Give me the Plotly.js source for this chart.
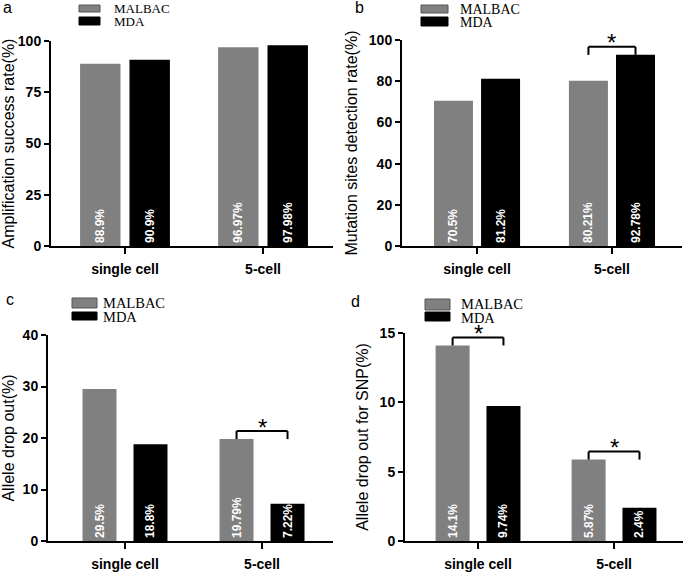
<!DOCTYPE html>
<html><head><meta charset="utf-8">
<script src="https://cdn.plot.ly/plotly-3.0.1.min.js"></script>
<style>html,body{margin:0;padding:0;background:#fff}#chart{width:685px;height:577px}</style>
</head><body><div id="chart"></div>
<script>
// ---------- data ----------
const categories = ['single cell', '5-cell'];
const seriesNames = ['MALBAC', 'MDA'];
const panelLetters = ['a', 'b', 'c', 'd'];
const yTitles = ['Amplification success rate(%)', 'Mutation sites detection rate(%)', 'Allele drop out(%)', 'Allele drop out for SNP(%)'];
const yMax = [100, 100, 40, 15];
const yStep = [25, 20, 10, 5];
const malbacA = [88.9, 96.97];
const mdaA = [90.9, 97.98];
const malbacB = [70.5, 80.21];
const mdaB = [81.2, 92.78];
const malbacC = [29.5, 19.79];
const mdaC = [18.8, 7.22];
const malbacD = [14.1, 5.87];
const mdaD = [9.74, 2.4];
const sigA = [];
const sigB = [1];
const sigC = [1];
const sigD = [0, 1];

// ---------- layout geometry (pixels in a 685x577 page) ----------
const W = 685, H = 577;
const px2x = p => p / W;
const px2y = p => 1 - p / H;
const seriesColors = ['#808080', '#000000'];
const panels = [
  {mal: malbacA, mda: mdaA, sig: sigA, plot: [51, 333, 41, 246], xr: [-0.536, 1.507], bw: 0.293, bg: 0.065, standoff: 4,
   letter: [8, 7], leg: {bx: [79, 100], rows: [[5, 12], [17, 25]], tx: 113, ty: [8.5, 21.5], fs: 13}},
  {mal: malbacB, mda: mdaB, sig: sigB, plot: [402, 682, 40, 246], xr: [-0.556, 1.519], bw: 0.289, bg: 0.06, standoff: 7,
   letter: [359, 8], leg: {bx: [421, 448], rows: [[5, 13], [17, 26]], tx: 459, ty: [9.5, 22], fs: 14}},
  {mal: malbacC, mda: mdaC, sig: sigC, plot: [48, 333, 335, 541], xr: [-0.562, 1.518], bw: 0.248, bg: 0.124, standoff: 7,
   letter: [10, 299], leg: {bx: [72, 97], rows: [[298, 308], [312, 320]], tx: 102, ty: [303, 317], fs: 14.5}},
  {mal: malbacD, mda: mdaD, sig: sigD, plot: [405, 683, 333, 541], xr: [-0.537, 1.507], bw: 0.25, bg: 0.124, standoff: 7,
   letter: [355, 301], leg: {bx: [425, 450], rows: [[299, 310], [312, 321]], tx: 460, ty: [304, 317.5], fs: 14.5}}
];

const FONT = 'Arial, "Liberation Sans", sans-serif';
const SERIF = '"Times New Roman", "Liberation Serif", serif';
const data = [];
const shapes = [];
const annotations = [];
const layout = {
  width: W, height: H, margin: {l: 0, r: 0, t: 0, b: 0},
  paper_bgcolor: '#fff', plot_bgcolor: '#fff',
  showlegend: false, hovermode: false,
  font: {family: FONT, color: '#000'},
  shapes: shapes, annotations: annotations
};

panels.forEach((p, i) => {
  const n = i === 0 ? '' : String(i + 1);
  const xa = 'x' + n, ya = 'y' + n;
  const [x0, x1, yTop, yBot] = p.plot;
  const plotH = yBot - yTop;
  [p.mal, p.mda].forEach((vals, s) => {
    data.push({
      type: 'bar', name: seriesNames[s], x: categories, y: vals,
      xaxis: xa, yaxis: ya,
      width: p.bw,
      offset: s === 0 ? -(p.bw + p.bg / 2) : p.bg / 2,
      marker: {color: seriesColors[s], line: {width: 0}},
      text: vals.map(v => v + '%'),
      textposition: 'inside', insidetextanchor: 'start', textangle: -90,
      constraintext: 'none',
      insidetextfont: {family: FONT, size: 12, color: '#fff', weight: 'bold'},
      cliponaxis: false
    });
  });
  layout['xaxis' + n] = {
    domain: [px2x(x0), px2x(x1)], anchor: ya, type: 'category', range: p.xr,
    showline: true, linewidth: 2, linecolor: '#000', ticks: 'outside', ticklen: 6, tickwidth: 2, tickcolor: '#000',
    tickfont: {family: FONT, size: 14, color: '#000', weight: 'bold'}, ticklabelstandoff: 3,
    showgrid: false, zeroline: false, fixedrange: true
  };
  layout['yaxis' + n] = {
    domain: [px2y(yBot), px2y(yTop)], anchor: xa, range: [0, yMax[i]], dtick: yStep[i], tick0: 0,
    showline: true, linewidth: 2, linecolor: '#000', ticks: 'outside', ticklen: 5, tickwidth: 2, tickcolor: '#000',
    tickfont: {family: FONT, size: 14, color: '#000', weight: 'bold'},
    showgrid: false, zeroline: false, fixedrange: true,
    title: {text: yTitles[i], font: {family: FONT, size: 16, color: '#000'}, standoff: p.standoff}
  };
  // panel letter
  annotations.push({xref: 'paper', yref: 'paper', x: px2x(p.letter[0]), y: px2y(p.letter[1]),
    xanchor: 'center', yanchor: 'middle', text: panelLetters[i], showarrow: false,
    font: {family: FONT, size: 16, color: '#000'}});
  // legend (drawn boxes + labels)
  p.leg.rows.forEach((r, s) => {
    shapes.push({type: 'rect', xref: 'paper', yref: 'paper',
      x0: px2x(p.leg.bx[0]), x1: px2x(p.leg.bx[1]), y0: px2y(r[1]), y1: px2y(r[0]),
      fillcolor: seriesColors[s], line: {color: s === 0 ? '#555' : '#000', width: 1}});
    annotations.push({xref: 'paper', yref: 'paper', x: px2x(p.leg.tx), y: px2y(p.leg.ty[s]),
      xanchor: 'left', yanchor: 'middle', text: seriesNames[s], showarrow: false, borderpad: 0,
      font: {family: SERIF, size: p.leg.fs, color: '#000'}});
  });
  // significance brackets
  const legH = 8 / plotH * yMax[i];
  p.sig.forEach(c => {
    const xl = c - p.bg / 2 - p.bw / 2;
    const xr = c + p.bg / 2 + p.bw / 2;
    const base = Math.max(p.mal[c], p.mda[c]);
    const top = base + legH;
    const ln = {color: '#000', width: 2};
    shapes.push({type: 'line', xref: xa, yref: ya, x0: xl, x1: xl, y0: base, y1: top, line: ln});
    shapes.push({type: 'line', xref: xa, yref: ya, x0: xr, x1: xr, y0: base, y1: top, line: ln});
    shapes.push({type: 'line', xref: xa, yref: ya, x0: xl, x1: xr, y0: top, y1: top, line: ln});
    annotations.push({xref: xa, yref: ya, x: (xl + xr) / 2, y: top, xanchor: 'center', yanchor: 'middle', yshift: 4,
      text: '*', showarrow: false, font: {family: FONT, size: 24, color: '#000'}});
  });
});

Plotly.newPlot('chart', data, layout, {displayModeBar: false, staticPlot: true});
</script>
</body></html>
